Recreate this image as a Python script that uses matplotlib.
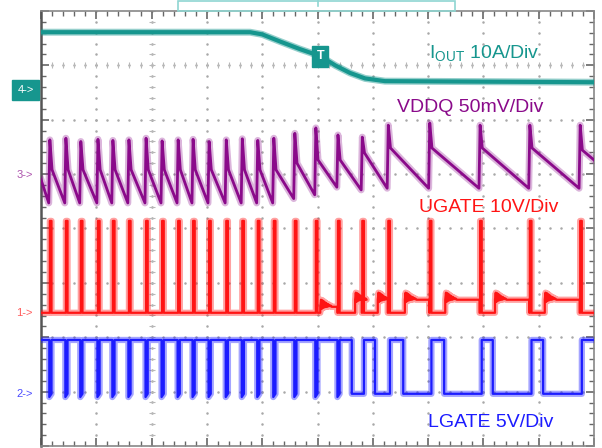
import numpy as np
import matplotlib
matplotlib.use("Agg")
import matplotlib.pyplot as plt
from matplotlib.ticker import MultipleLocator
from matplotlib.patches import Rectangle
from matplotlib.lines import Line2D

plt.rcParams['font.family'] = ['Liberation Sans', 'DejaVu Sans']
plt.rcParams['mathtext.fontset'] = 'custom'
plt.rcParams['mathtext.rm'] = 'Liberation Sans'

# all values in scope divisions (x: 0..10, y: -4..4)
# UGATE pulse times
pulse_t = [0.16, 0.45, 0.72, 1.03, 1.30, 1.59, 1.90, 2.19, 2.48, 2.75, 3.04, 3.35,
           3.64, 3.92, 4.21, 4.59, 4.97, 5.37, 5.81, 6.28, 7.03, 7.94, 8.84, 9.75]

# IOUT (ch4)
iout_t = [0, 3.78, 4.0, 4.32, 4.68, 5.05, 5.32, 5.59, 5.86, 6.22, 10]
iout_v = [3.61, 3.61, 3.57, 3.44, 3.30, 3.17, 3.00, 2.86, 2.76, 2.71, 2.69]

# VDDQ (ch3) per switching cycle
vddq_start = 0.90
vddq_end = 1.26
vddq_min = [0.47] * 15 + [0.55, 0.62, 0.76, 0.71, 0.74, 0.74, 0.74, 0.74, 0.74]
vddq_spike = [1.63, 1.66, 1.60, 1.64, 1.62, 1.63, 1.66, 1.61, 1.63, 1.64, 1.60, 1.63,
              1.65, 1.62, 1.66, 1.75, 1.85, 1.72, 1.68, 1.90, 1.94, 1.90, 1.90, 1.90]
vddq_post = [1.08] * 15 + [1.20, 1.26, 1.26, 1.39, 1.48, 1.48, 1.48, 1.48, 1.44]

# UGATE (ch1)
ug_low = -1.55
ug_high = 0.14
ring_start = [None] * 16 + [5.05, 5.68, 6.09, 6.58, 7.31, 8.21, 9.11, None]
ring_idle = [None] * 16 + [-1.44, -1.31, -1.31, -1.31, -1.31, -1.31, -1.31, None]
ring_shape = [0.0, 0.13, -0.04, 0.12, -0.02, 0.10, -0.01, 0.08, 0.0, 0.06, 0.0,
              0.05, 0.01, 0.03, 0.01, 0.02, 0.0]

# LGATE (ch2)
lg_high = -2.05
lg_low = -3.04
lg_off = [None] * 17 + [5.62, 6.04, 6.55, 7.29, 8.17, 9.08, None]

# channel reference markers
ref_y = {'4': 2.55, '3': 0.98, '1': -1.55, '2': -3.04}

teal = '#16968e'
purple = '#8a0a8a'
red = '#ff1414'
blue = '#1c1cff'

# build traces from the event lists
vx, vy = [0], [vddq_start]
for i, t in enumerate(pulse_t):
    vx += [t - 0.02, t, t + 0.04]
    vy += [vddq_min[i], vddq_spike[i], vddq_post[i]]
vx.append(10)
vy.append(vddq_end)

ux, uy = [0], [ug_low]
for i, t in enumerate(pulse_t):
    ux += [t, t, t + 0.03, t + 0.03]
    uy += [ug_low, ug_high, ug_high, ug_low]
    if ring_start[i] is not None:
        rs = ring_start[i]
        ux.append(rs)
        uy.append(ug_low)
        for k, r in enumerate(ring_shape):
            ux.append(rs + 0.013 * k)
            uy.append(ring_idle[i] + r)
        nxt = pulse_t[i + 1] if i + 1 < len(pulse_t) else 10
        ux += [nxt - 0.01, nxt - 0.01]
        uy += [ring_idle[i], ug_low]
ux.append(10)
uy.append(ug_low)

lx, ly = [0], [lg_high]
state_high = True
for i, t in enumerate(pulse_t):
    if state_high:
        lx += [t - 0.01, t - 0.01]
        ly += [lg_high, lg_low - 0.06]
    lx += [t + 0.03, t + 0.03]
    ly += [lg_low, lg_high]
    state_high = True
    if lg_off[i] is not None:
        lx += [lg_off[i], lg_off[i]]
        ly += [lg_high, lg_low]
        state_high = False
lx.append(10)
ly.append(lg_high)

fig = plt.figure(figsize=(6.02, 4.48), dpi=100)
ax = fig.add_axes([41 / 602, 2 / 448, 553 / 602, 435 / 448])
ax.set_xlim(0, 10)
ax.set_ylim(-4, 4)

# graticule dots
for gx in range(1, 10):
    yy = np.arange(-4, 4.01, 0.2)
    ax.plot(np.full_like(yy, gx), yy, ls='none', marker='.', ms=1.6, color='#a8a8a8', zorder=1)
for gy in range(-3, 4):
    xx = np.arange(0, 10.01, 0.2)
    ax.plot(xx, np.full_like(xx, gy), ls='none', marker='.', ms=1.6, color='#a8a8a8', zorder=1)
yy = np.arange(-4, 4.01, 0.2)
ax.plot(np.full_like(yy, 2), yy, ls='none', marker='_', ms=5, mew=0.8, color='#b8b8b8', zorder=1)
xx = np.arange(0, 10.01, 0.2)
ax.plot(xx, np.full_like(xx, 3), ls='none', marker='|', ms=4, mew=0.8, color='#b8b8b8', zorder=1)

ax.xaxis.set_major_locator(MultipleLocator(1))
ax.xaxis.set_minor_locator(MultipleLocator(0.2))
ax.yaxis.set_major_locator(MultipleLocator(1))
ax.yaxis.set_minor_locator(MultipleLocator(0.2))
ax.tick_params(which='both', direction='in', top=True, right=True, bottom=True, left=True,
               labelleft=False, labelbottom=False, color='#666666')
ax.tick_params(which='major', length=6, width=1.2)
ax.tick_params(which='minor', length=3.5, width=1)
for s in ['top', 'right', 'bottom']:
    ax.spines[s].set_color('#888888')
    ax.spines[s].set_linewidth(1.2)
ax.spines['left'].set_color('#555555')
ax.spines['left'].set_linewidth(1.8)

# traces: light persistence halo + core
ax.plot(iout_t, iout_v, color=teal, lw=5, alpha=0.45, zorder=3)
ax.plot(iout_t, iout_v, color=teal, lw=3, zorder=3)

ax.plot(vx, vy, color=purple, lw=5, alpha=0.3, zorder=3)
ax.plot(vx, vy, color=purple, lw=2, zorder=3)

ax.plot(ux, uy, color=red, lw=4.5, alpha=0.4, zorder=3)
ax.plot(ux, uy, color=red, lw=1.6, zorder=3)

ax.plot(lx, ly, color=blue, lw=4.5, alpha=0.4, zorder=3)
ax.plot(lx, ly, color=blue, lw=1.6, zorder=3)

# trigger marker on IOUT
ax.text(5.05, 3.17, 'T', color='white', fontsize=9, fontweight='bold', ha='center', va='center',
        zorder=5, bbox=dict(boxstyle='square,pad=0.35', fc=teal, ec=teal))

# channel labels
fig.text(540 / 602, 1 - 59 / 448, 'I$_\\mathregular{OUT}$ 10A/Div', color=teal, fontsize=14,
         ha='right', va='baseline')
fig.text(543 / 602, 1 - 112 / 448, 'VDDQ 50mV/Div', color=purple, fontsize=14, ha='right', va='baseline')
fig.text(558 / 602, 1 - 212 / 448, 'UGATE 10V/Div', color=red, fontsize=14, ha='right', va='baseline')
fig.text(553 / 602, 1 - 427 / 448, 'LGATE 5V/Div', color=blue, fontsize=14, ha='right', va='baseline')

# reference arrows at left
ax.text(-0.28, ref_y['4'], '4->', color='white', fontsize=8, ha='center', va='center', clip_on=False,
        bbox=dict(boxstyle='square,pad=0.45', fc=teal, ec=teal))
ax.text(-0.3, ref_y['3'], '3->', color=purple, fontsize=8, ha='center', va='center', clip_on=False, alpha=0.7)
ax.text(-0.3, ref_y['1'], '1->', color=red, fontsize=8, ha='center', va='center', clip_on=False, alpha=0.7)
ax.text(-0.3, ref_y['2'], '2->', color=blue, fontsize=8, ha='center', va='center', clip_on=False, alpha=0.8)

# record view box at the top
fig.add_artist(Rectangle((178 / 602, 1 - 11 / 448), 277 / 602, 10 / 448, fill=False,
                         ec='#8fd6d2', lw=1.2, transform=fig.transFigure))
fig.add_artist(Line2D([318 / 602, 318 / 602], [1 - 1 / 448, 1 - 6 / 448], color='#8fd6d2', lw=1.2,
                      transform=fig.transFigure))

fig.savefig('out.png', dpi=100)
